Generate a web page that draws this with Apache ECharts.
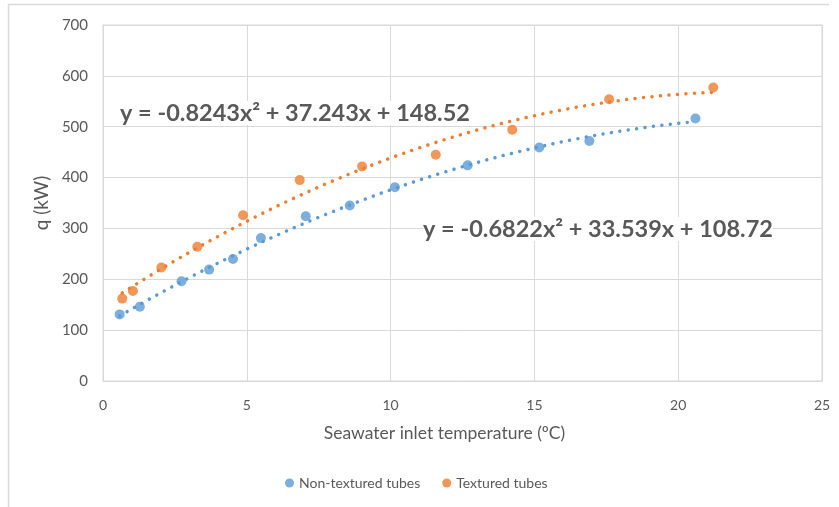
<!DOCTYPE html>
<html>
<head>
<meta charset="utf-8">
<script src="https://cdn.jsdelivr.net/npm/echarts@6/dist/echarts.min.js"></script>
<style>html,body{margin:0;padding:0;background:#fff}#c{width:839px;height:507px}</style>
</head>
<body>
<div id="c"></div>
<script>
var seriesNames = ['Non-textured tubes', 'Textured tubes'];
var nonTexturedX = [0.58, 1.28, 2.73, 3.69, 4.52, 5.49, 7.05, 8.58, 10.15, 12.68, 15.17, 16.91, 20.6];
var nonTexturedY = [131, 146, 196, 219, 240, 281, 324, 345, 381, 424, 459, 472, 516];
var texturedX = [0.67, 1.04, 2.03, 3.28, 4.87, 6.84, 9.01, 11.57, 14.23, 17.6, 21.22];
var texturedY = [162, 177, 223, 264, 326, 395, 422, 445, 494, 554, 577];
// trendline coefficients as printed on the chart: [a, b, c] for y = a x^2 + b x + c
var nonTexturedFit = [-0.6822, 33.539, 108.72];
var texturedFit = [-0.8243, 37.243, 148.52];
var xTicks = [0, 5, 10, 15, 20, 25];
var yTicks = [0, 100, 200, 300, 400, 500, 600, 700];

function pairs(xs, ys) { return xs.map(function (x, i) { return [x, ys[i]]; }); }
function trend(coef, x0, x1) {
  var out = [], n = 60;
  for (var i = 0; i <= n; i++) {
    var x = x0 + (x1 - x0) * i / n;
    out.push([x, coef[0] * x * x + coef[1] * x + coef[2]]);
  }
  return out;
}
var blue = '#5B9BD5', orange = '#ED7D31', txt = '#595959', grid = '#D9D9D9';
var font = 'Lato, "Open Sans", sans-serif';

var chart = echarts.init(document.getElementById('c'));
chart.setOption({
  animation: false,
  backgroundColor: '#fff',
  grid: { left: 103, right: 17, top: 25, bottom: 126, show: true, borderColor: grid, borderWidth: 1 },
  xAxis: {
    type: 'value', min: xTicks[0], max: xTicks[xTicks.length - 1], interval: 5,
    name: 'Seawater inlet temperature (ºC)', nameLocation: 'middle', nameGap: 43,
    nameTextStyle: { color: txt, fontSize: 17.5, fontFamily: font, padding: [0, 36, 0, 0] },
    axisLine: { show: true, lineStyle: { color: grid } }, axisTick: { show: false },
    axisLabel: { color: txt, fontSize: 14, fontFamily: font, margin: 17 },
    splitLine: { show: true, lineStyle: { color: grid } }
  },
  yAxis: {
    type: 'value', min: yTicks[0], max: yTicks[yTicks.length - 1], interval: 100,
    name: 'q (kW)', nameLocation: 'middle', nameGap: 49,
    nameTextStyle: { color: txt, fontSize: 19, fontFamily: font },
    axisLine: { show: true, lineStyle: { color: grid } }, axisTick: { show: false },
    axisLabel: { color: txt, fontSize: 15, fontFamily: font, margin: 15 },
    splitLine: { show: true, lineStyle: { color: grid } }
  },
  legend: {
    data: seriesNames, bottom: 12, left: 280, icon: 'circle', itemWidth: 9, itemHeight: 9, itemGap: 22,
    textStyle: { color: txt, fontSize: 14, fontFamily: font }
  },
  graphic: [
    { type: 'line', shape: { x1: 8, y1: 4.5, x2: 829, y2: 4.5 }, style: { stroke: grid, lineWidth: 1.5 } },
    { type: 'line', shape: { x1: 8.5, y1: 4, x2: 8.5, y2: 507 }, style: { stroke: grid, lineWidth: 1.5 } },
    { type: 'text', left: 120, top: 101, z: 10, style: { text: 'y = -0.8243x² + 37.243x + 148.52', fill: txt, font: 'bold 23.5px ' + font, backgroundColor: '#fff' } },
    { type: 'text', left: 423, top: 217, z: 10, style: { text: 'y = -0.6822x² + 33.539x + 108.72', fill: txt, font: 'bold 23.5px ' + font, backgroundColor: '#fff' } }
  ],
  series: [
    { name: 'trend1', type: 'line', data: trend(nonTexturedFit, nonTexturedX[0], nonTexturedX[nonTexturedX.length - 1]),
      showSymbol: false, silent: true, lineStyle: { color: blue, width: 3.5, type: [0.01, 8.5], cap: 'round' }, z: 1 },
    { name: 'trend2', type: 'line', data: trend(texturedFit, texturedX[0], texturedX[texturedX.length - 1]),
      showSymbol: false, silent: true, lineStyle: { color: orange, width: 3.5, type: [0.01, 8.5], cap: 'round' }, z: 1 },
    { name: seriesNames[0], type: 'scatter', data: pairs(nonTexturedX, nonTexturedY), symbolSize: 10, itemStyle: { color: blue }, z: 3 },
    { name: seriesNames[1], type: 'scatter', data: pairs(texturedX, texturedY), symbolSize: 10, itemStyle: { color: orange }, z: 3 }
  ]
});
</script>
</body>
</html>
